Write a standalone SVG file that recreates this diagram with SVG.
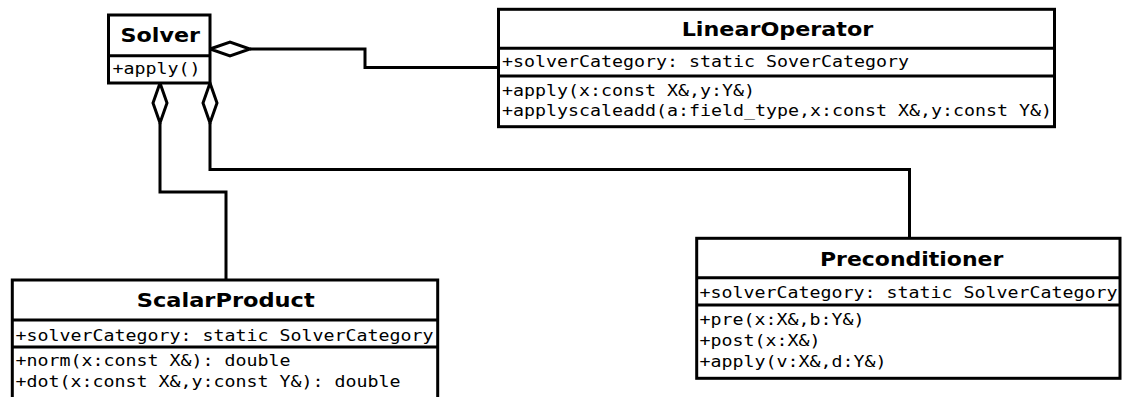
<svg xmlns="http://www.w3.org/2000/svg" width="1123" height="397" viewBox="0 0 1123 397">
  <style>
    .box { fill: #ffffff; stroke: #000000; stroke-width: 3; }
    .div { stroke: #000000; stroke-width: 3; fill: none; }
    .title { font-family: "DejaVu Sans", "Liberation Sans", sans-serif; font-weight: bold; font-size: 19.5px; fill: #000000; }
    .member { font-family: "DejaVu Sans Mono", "Liberation Mono", monospace; font-size: 15.5px; fill: #000000; }
    .link { fill: none; stroke: #000000; stroke-width: 3; }
    .agg { fill: #ffffff; stroke: #000000; stroke-width: 3; stroke-linejoin: miter; }
  </style>

  <!-- aggregation connectors -->
  <g id="connectors">
    <path class="link" d="M250,49 H365 V67.5 H498.5"/>
    <polygon class="agg" points="210,49 230,42 250,49 230,56"/>
    <path class="link" d="M160,123 V192 H226 V280"/>
    <polygon class="agg" points="160,83 167,103 160,123 153,103"/>
    <path class="link" d="M210,123 V169.5 H909.5 V238.3"/>
    <polygon class="agg" points="210,83 217,103 210,123 203,103"/>
  </g>

  <!-- Solver -->
  <g id="solver">
    <rect class="box" x="108.5" y="15" width="101.5" height="68"/>
    <line class="div" x1="108.5" y1="55.7" x2="210" y2="55.7"/>
    <text class="title" x="120.5" y="42" textLength="79.5" lengthAdjust="spacingAndGlyphs">Solver</text>
    <text class="member" x="112.5" y="74" textLength="88" lengthAdjust="spacingAndGlyphs">+apply()</text>
  </g>

  <!-- LinearOperator -->
  <g id="linear-operator">
    <rect class="box" x="498.5" y="9.3" width="556" height="117.4"/>
    <line class="div" x1="498.5" y1="48.3" x2="1054.5" y2="48.3"/>
    <line class="div" x1="498.5" y1="76" x2="1054.5" y2="76"/>
    <text class="title" x="681.7" y="35.5" textLength="191.6" lengthAdjust="spacingAndGlyphs">LinearOperator</text>
    <text class="member" x="502" y="66.5" textLength="407" lengthAdjust="spacingAndGlyphs">+solverCategory: static SoverCategory</text>
    <text class="member" x="502" y="95.5" textLength="253" lengthAdjust="spacingAndGlyphs">+apply(x:const X&amp;,y:Y&amp;)</text>
    <text class="member" x="502" y="115.5" textLength="550" lengthAdjust="spacingAndGlyphs">+applyscaleadd(a:field_type,x:const X&amp;,y:const Y&amp;)</text>
  </g>

  <!-- ScalarProduct -->
  <g id="scalar-product">
    <rect class="box" x="12.3" y="280" width="425.4" height="130"/>
    <line class="div" x1="12.3" y1="320" x2="437.7" y2="320"/>
    <line class="div" x1="12.3" y1="347" x2="437.7" y2="347"/>
    <text class="title" x="136.7" y="307" textLength="178" lengthAdjust="spacingAndGlyphs">ScalarProduct</text>
    <text class="member" x="15.5" y="340.5" textLength="418" lengthAdjust="spacingAndGlyphs">+solverCategory: static SolverCategory</text>
    <text class="member" x="15.5" y="366" textLength="275" lengthAdjust="spacingAndGlyphs">+norm(x:const X&amp;): double</text>
    <text class="member" x="15.5" y="386.5" textLength="385" lengthAdjust="spacingAndGlyphs">+dot(x:const X&amp;,y:const Y&amp;): double</text>
  </g>

  <!-- Preconditioner -->
  <g id="preconditioner">
    <rect class="box" x="696.7" y="238.3" width="423.3" height="140"/>
    <line class="div" x1="696.7" y1="277.7" x2="1120" y2="277.7"/>
    <line class="div" x1="696.7" y1="305" x2="1120" y2="305"/>
    <text class="title" x="820" y="265.5" textLength="183.3" lengthAdjust="spacingAndGlyphs">Preconditioner</text>
    <text class="member" x="699.5" y="298" textLength="418" lengthAdjust="spacingAndGlyphs">+solverCategory: static SolverCategory</text>
    <text class="member" x="699.5" y="325" textLength="165" lengthAdjust="spacingAndGlyphs">+pre(x:X&amp;,b:Y&amp;)</text>
    <text class="member" x="699.5" y="346" textLength="121" lengthAdjust="spacingAndGlyphs">+post(x:X&amp;)</text>
    <text class="member" x="699.5" y="367" textLength="187" lengthAdjust="spacingAndGlyphs">+apply(v:X&amp;,d:Y&amp;)</text>
  </g>
</svg>
